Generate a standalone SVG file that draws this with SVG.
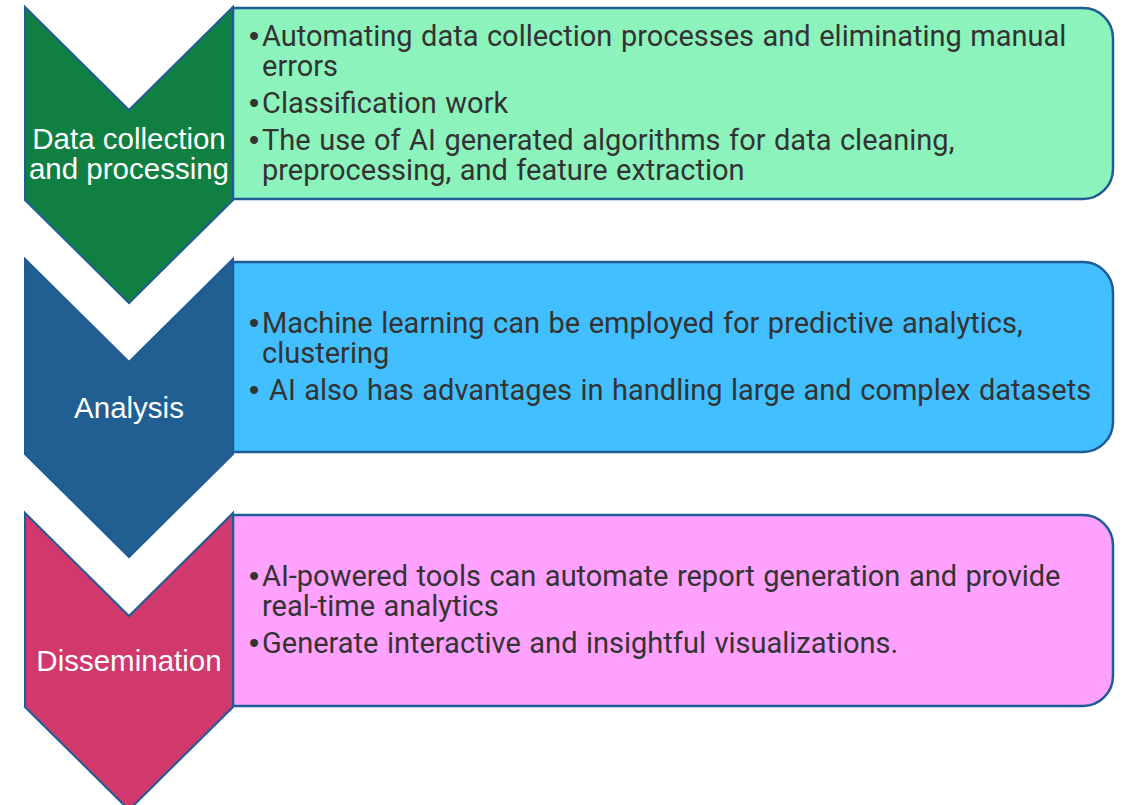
<svg xmlns="http://www.w3.org/2000/svg" width="1125" height="805" viewBox="0 0 1125 805">
<style>
.chev{stroke:#1F5C96;stroke-width:2;stroke-linejoin:miter}
.box{stroke:#1F5C96;stroke-width:2.5}
.lbl{font-family:"Liberation Sans",Arial,sans-serif;font-size:29.5px;fill:#FFFFFF;text-anchor:middle}
.txt{font-family:Roboto,"Liberation Sans",sans-serif;font-size:29px;word-spacing:1.3px;fill:#333333}
.b{font-family:"Liberation Sans",Arial,sans-serif}
</style>
<rect width="1125" height="805" fill="#FFFFFF"/>
<g id="connectors"></g>
<g id="stage1">
<path class="box" fill="#8BF3BB" d="M233,8 H1083 A30,30 0 0 1 1113,38 V169 A30,30 0 0 1 1083,199 H233 Z"/>
<path class="chev" fill="#108042" d="M25,7 L129,110 L233,7 V200 L129,303 L25,200 Z"/>
<text class="lbl" x="129" y="149">Data collection</text>
<text class="lbl" x="129" y="179">and processing</text>
<text class="txt" y="46"><tspan class="b" x="249">•</tspan><tspan x="262">Automating data collection processes and eliminating manual</tspan></text>
<text class="txt" x="262" y="76">errors</text>
<text class="txt" y="113"><tspan class="b" x="249">•</tspan><tspan x="262">Classification work</tspan></text>
<text class="txt" y="150"><tspan class="b" x="249">•</tspan><tspan x="262">The use of AI generated algorithms for data cleaning,</tspan></text>
<text class="txt" x="262" y="180">preprocessing, and feature extraction</text>
</g>
<g id="stage2">
<path class="box" fill="#41BFFF" d="M233,262 H1083 A30,30 0 0 1 1113,292 V422 A30,30 0 0 1 1083,452 H233 Z"/>
<path class="chev" fill="#215F93" d="M25,259 L129,362 L233,259 V454 L129,557 L25,454 Z"/>
<text class="lbl" x="129" y="418">Analysis</text>
<text class="txt" y="333"><tspan class="b" x="249">•</tspan><tspan x="262">Machine learning can be employed for predictive analytics,</tspan></text>
<text class="txt" x="262" y="363">clustering</text>
<text class="txt" y="400"><tspan class="b" x="249">•</tspan><tspan x="269">AI also has advantages in handling large and complex datasets</tspan></text>
</g>
<g id="stage3">
<path class="box" fill="#FFA1FF" d="M233,515 H1083 A30,30 0 0 1 1113,545 V676 A30,30 0 0 1 1083,706 H233 Z"/>
<path class="chev" fill="#D1386C" d="M25,513 L129,616 L233,513 V707 L129,810 L25,707 Z"/>
<text class="lbl" x="129" y="671">Dissemination</text>
<text class="txt" y="586"><tspan class="b" x="249">•</tspan><tspan x="262">AI-powered tools can automate report generation and provide</tspan></text>
<text class="txt" x="262" y="616">real-time analytics</text>
<text class="txt" y="653"><tspan class="b" x="249">•</tspan><tspan x="262">Generate interactive and insightful visualizations.</tspan></text>
</g>
</svg>
